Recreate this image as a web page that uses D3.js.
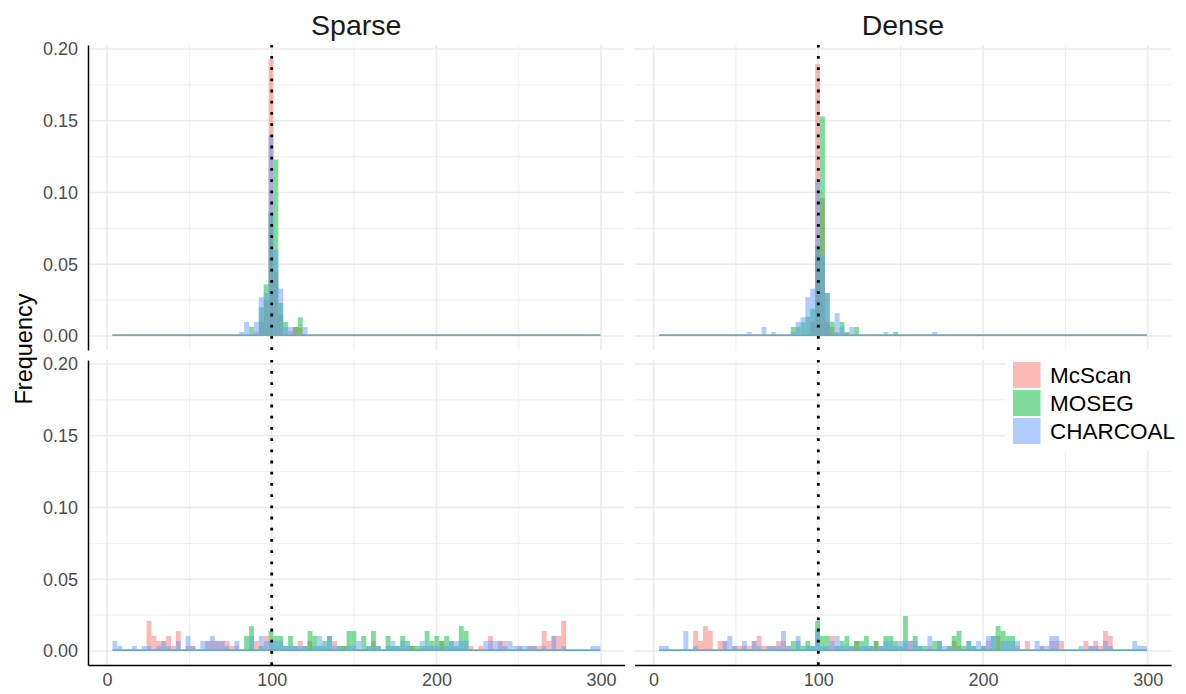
<!DOCTYPE html>
<html>
<head>
<meta charset="utf-8">
<script src="https://d3js.org/d3.v7.min.js"></script>
<style>
  body { margin: 0; background: #fff; }
  text { font-family: "Liberation Sans", Arial, sans-serif; }
</style>
</head>
<body>
<div id="viz"></div>
<script>
var methods = ["McScan", "MOSEG", "CHARCOAL"];
var colors = ["#F8766D", "#00BA38", "#619CFF"];
var columns = ["Sparse", "Dense"];
var xTicks = [0, 100, 200, 300];
var xMinor = [50, 150, 250];
var yTicks = [0, 0.05, 0.10, 0.15, 0.20];
var yMinor = [0.025, 0.075, 0.125, 0.175];
var refLine = 100;

// histogram breaks: 100 bins
var binStart = 3.3, binWidth = 2.962;

// frequencies per bin, top row
var sparseTopMcScan = [
  0,0,0,0,0,0,0,0,0,0,
  0,0,0,0,0,0,0,0,0,0,
  0,0,0,0,0,0,0,0,0,0.003,
  0.01,0.025,0.193,0.045,0.015,0,0.0035,0.0063,0.006,0,
  0,0,0,0,0,0,0,0,0,0,
  0,0,0,0,0,0,0,0,0,0,
  0,0,0,0,0,0,0,0,0,0,
  0,0,0,0,0,0,0,0,0,0,
  0,0,0,0,0,0,0,0,0,0,
  0,0,0,0,0,0,0,0,0,0];
var sparseTopMOSEG = [
  0,0,0,0,0,0,0,0,0,0,
  0,0,0,0,0,0,0,0,0,0,
  0,0,0,0,0,0,0,0,0.0063,0,
  0.02,0.036,0.086,0.123,0.023,0.0098,0,0.0063,0.013,0,
  0,0,0,0,0,0,0,0,0,0,
  0,0,0,0,0,0,0,0,0,0,
  0,0,0,0,0,0,0,0,0,0,
  0,0,0,0,0,0,0,0,0,0,
  0,0,0,0,0,0,0,0,0,0,
  0,0,0,0,0,0,0,0,0,0];
var sparseTopCHARCOAL = [
  0,0,0,0,0,0,0,0,0,0,
  0,0,0,0,0,0,0,0,0,0,
  0,0,0,0,0,0,0.0028,0.0098,0,0.0098,
  0.027,0.030,0.140,0.060,0.033,0.0063,0.0063,0,0,0.0063,
  0,0,0,0,0,0,0,0,0,0,
  0,0,0,0,0,0,0,0,0,0,
  0,0,0,0,0,0,0,0,0,0,
  0,0,0,0,0,0,0,0,0,0,
  0,0,0,0,0,0,0,0,0,0,
  0,0,0,0,0,0,0,0,0,0];
var denseTopMcScan = [
  0,0,0,0,0,0,0,0,0,0,
  0,0,0,0,0,0,0,0,0,0,
  0,0,0,0,0,0,0,0,0,0,
  0,0.01,0.1895,0.096,0.01,0.0063,0,0,0.0026,0,
  0,0,0,0,0,0,0,0,0,0,
  0,0,0,0,0,0,0,0,0,0,
  0,0,0,0,0,0,0,0,0,0,
  0,0,0,0,0,0,0,0,0,0,
  0,0,0,0,0,0,0,0,0,0,
  0,0,0,0,0,0,0,0,0,0];
var denseTopMOSEG = [
  0,0,0,0,0,0,0,0,0,0,
  0,0,0,0,0,0,0,0,0,0,
  0,0,0,0,0,0,0,0.0063,0.0063,0.0095,
  0.0135,0.019,0.063,0.153,0.030,0.0098,0.0026,0.0098,0.0026,0,
  0.0063,0,0,0,0,0,0,0,0.0028,0,
  0,0,0,0,0,0,0,0,0,0,
  0,0,0,0,0,0,0,0,0,0,
  0,0,0,0,0,0,0,0,0,0,
  0,0,0,0,0,0,0,0,0,0,
  0,0,0,0,0,0,0,0,0,0];
var denseTopCHARCOAL = [
  0,0,0,0,0,0,0,0,0,0,
  0,0,0,0,0,0,0,0,0.0028,0,
  0,0.0063,0,0.0028,0,0,0,0.0028,0.0098,0.013,
  0.027,0.033,0.109,0.056,0.030,0,0.016,0.0065,0,0.0063,
  0,0,0,0,0,0,0.0028,0,0,0,
  0,0,0,0,0,0,0.0028,0,0,0,
  0,0,0,0,0,0,0,0,0,0,
  0,0,0,0,0,0,0,0,0,0,
  0,0,0,0,0,0,0,0,0,0,
  0,0,0,0,0,0,0,0,0,0];

// frequencies per bin, bottom row
var sparseBottomMcScan = [
  0,0,0,0,0,0,0,0.021,0.0105,0.007,
  0.007,0.0105,0.0035,0.014,0,0.0035,0.0035,0,0,0.007,
  0.007,0.007,0.007,0.007,0.0035,0.0035,0,0,0,0.007,
  0,0.0105,0,0,0,0,0,0,0.007,0,
  0.007,0,0,0,0,0.007,0,0.0035,0,0,
  0,0,0,0.007,0,0,0,0,0,0,
  0,0.0035,0,0,0,0,0,0.007,0,0,
  0,0,0,0.0035,0,0.0035,0,0.0105,0,0.007,
  0.007,0,0,0.0035,0,0.0035,0.0035,0.0035,0.014,0.007,
  0.0105,0.0105,0.021,0,0,0,0,0,0,0];
var sparseBottomMOSEG = [
  0,0,0,0,0,0,0,0,0,0,
  0,0,0,0,0,0,0,0,0,0,
  0,0,0,0,0,0,0,0.0105,0.0174,0,
  0.0035,0,0.014,0.0105,0.0105,0.0035,0.0105,0.0035,0,0.0035,
  0.014,0.0105,0.0035,0.007,0.0105,0,0.0035,0.0035,0.014,0.014,
  0,0.0105,0.0035,0.014,0.0035,0,0.0105,0.0035,0.0035,0.0105,
  0.007,0.0035,0.0035,0.0035,0.014,0.007,0.0105,0.007,0.0105,0.007,
  0.0035,0.0174,0.014,0,0,0,0,0,0,0,
  0,0,0,0,0,0,0,0,0,0,
  0,0,0,0,0,0,0,0,0,0];
var sparseBottomCHARCOAL = [
  0.007,0.0035,0,0,0.0035,0,0.0035,0.0035,0,0.0035,
  0.007,0.0035,0,0.007,0,0.0105,0.0035,0,0.007,0.007,
  0.0105,0.007,0.007,0.0035,0,0.007,0,0,0.0105,0,
  0.0105,0.007,0.007,0.007,0.007,0.0035,0.0035,0.0035,0.0035,0.0035,
  0,0.0035,0.0105,0.0035,0.0105,0.0035,0.0035,0,0.0035,0.0035,
  0.007,0,0.0035,0,0.0035,0,0.0035,0.007,0.0035,0.007,
  0.0035,0,0,0.007,0.0035,0.0035,0.0035,0,0.0035,0.007,
  0.007,0.007,0.007,0,0,0,0.007,0.007,0.007,0.007,
  0.0035,0.007,0.0035,0.0035,0.0035,0.0035,0.0035,0,0.0035,0,
  0.0105,0,0.0035,0,0,0,0,0,0.0035,0.0035];
var denseBottomMcScan = [
  0,0,0,0,0,0,0,0.014,0.007,0.0174,
  0.014,0,0.007,0.007,0,0.0035,0.0035,0.0035,0.0035,0.007,
  0.0105,0.0035,0.0035,0.0035,0.007,0.007,0.0035,0,0,0,
  0,0,0,0,0,0.0105,0,0,0,0,
  0.007,0,0,0,0.007,0,0,0,0,0,
  0,0.007,0,0,0,0.0035,0,0,0,0,
  0.007,0.0035,0,0,0,0,0,0.007,0,0.0105,
  0,0,0,0.0035,0,0.007,0,0,0.0035,0,
  0.007,0.007,0.007,0,0,0,0,0.007,0.0035,0.007,
  0.0035,0.014,0.0105,0,0,0,0,0,0,0];
var denseBottomMOSEG = [
  0,0,0,0,0,0,0,0,0,0,
  0,0,0,0,0,0,0,0,0,0,
  0,0,0,0,0,0,0,0.007,0.007,0.0035,
  0.007,0.0035,0.021,0.0105,0.0105,0,0.0035,0.007,0.0105,0.0035,
  0.007,0.007,0.0105,0.0035,0.007,0.0035,0.0105,0.0105,0.007,0.0035,
  0.0244,0,0.0105,0.0035,0.0035,0,0.007,0.007,0,0.0035,
  0.0105,0.014,0.0035,0.007,0.0035,0,0.0035,0,0.0105,0.0174,
  0.014,0.0105,0.0105,0,0,0,0,0,0,0,
  0,0,0,0,0,0,0,0,0,0,
  0,0,0,0,0,0,0,0,0,0];
var denseBottomCHARCOAL = [
  0.0035,0.0035,0,0,0,0.014,0,0.0035,0,0,
  0,0,0,0.007,0.0105,0.0035,0,0.007,0,0.007,
  0.0035,0,0.0035,0.0035,0.0035,0.014,0.0035,0,0.0105,0,
  0.0035,0.0035,0.014,0.0035,0.0035,0.007,0.0105,0.0035,0.0035,0.0035,
  0,0.0035,0.0035,0.0035,0,0.0035,0.007,0.007,0.0035,0.007,
  0.007,0.007,0.007,0.0035,0,0.0105,0,0.007,0.0035,0.0035,
  0,0,0,0.007,0.0035,0.007,0.0035,0.0105,0.0105,0,
  0.007,0.007,0.007,0.007,0,0,0,0.007,0.0035,0.0035,
  0.0105,0.0105,0,0,0,0,0.0035,0,0.0035,0.0035,
  0,0.007,0.0035,0,0,0,0,0.007,0.0035,0.0035];

var panels = [
  {col: 0, row: 0, series: [sparseTopMcScan, sparseTopMOSEG, sparseTopCHARCOAL]},
  {col: 1, row: 0, series: [denseTopMcScan, denseTopMOSEG, denseTopCHARCOAL]},
  {col: 0, row: 1, series: [sparseBottomMcScan, sparseBottomMOSEG, sparseBottomCHARCOAL]},
  {col: 1, row: 1, series: [denseBottomMcScan, denseBottomMOSEG, denseBottomCHARCOAL]}
];

var pw = 536.5, ph = 305;
var colX = [88, 634.6], rowY = [45, 360];

var svg = d3.select("#viz")
    .append("svg")
    .attr("width", 1186)
    .attr("height", 694);

var x = d3.scaleLinear().domain([-11.54, 314.2]).range([0, pw]);
var y = d3.scaleLinear().domain([-0.00976, 0.2028]).range([ph, 0]);

panels.forEach(function(p){
  var g = svg.append("g")
      .attr("transform", "translate(" + colX[p.col] + "," + rowY[p.row] + ")");

  // grid
  g.selectAll("line.ymin").data(yMinor).enter().append("line")
      .attr("x1", 0).attr("x2", pw)
      .attr("y1", function(d){ return y(d); }).attr("y2", function(d){ return y(d); })
      .style("stroke", "#ebebeb").style("stroke-width", 0.8);
  g.selectAll("line.xmin").data(xMinor).enter().append("line")
      .attr("y1", 0).attr("y2", ph)
      .attr("x1", function(d){ return x(d); }).attr("x2", function(d){ return x(d); })
      .style("stroke", "#ebebeb").style("stroke-width", 0.8);
  g.selectAll("line.ymaj").data(yTicks).enter().append("line")
      .attr("x1", 0).attr("x2", pw)
      .attr("y1", function(d){ return y(d); }).attr("y2", function(d){ return y(d); })
      .style("stroke", "#ebebeb").style("stroke-width", 1.6);
  g.selectAll("line.xmaj").data(xTicks).enter().append("line")
      .attr("y1", 0).attr("y2", ph)
      .attr("x1", function(d){ return x(d); }).attr("x2", function(d){ return x(d); })
      .style("stroke", "#ebebeb").style("stroke-width", 1.6);

  // bars, one series after the other (empty bins still leave a thin sliver)
  p.series.forEach(function(vals, si){
    g.selectAll("rect.s" + si)
        .data(vals)
        .enter()
        .append("rect")
        .attr("x", function(d, i){ return x(binStart + i * binWidth); })
        .attr("width", function(d, i){ return x(binStart + (i + 1) * binWidth) - x(binStart + i * binWidth); })
        .attr("y", function(d){ return d > 0 ? y(d) : y(0) - 1.6; })
        .attr("height", function(d){ return d > 0 ? y(0) - y(d) : 1.6; })
        .style("fill", colors[si])
        .style("fill-opacity", 0.5);
  });

  // reference line
  g.append("line")
      .attr("x1", x(refLine)).attr("x2", x(refLine))
      .attr("y1", ph).attr("y2", 0)
      .style("stroke", "#000")
      .style("stroke-width", 2.8)
      .style("stroke-dasharray", "2.8,8.4");

  if (p.col === 0) {
    var ay = g.append("g")
        .call(d3.axisLeft(y).tickValues(yTicks).tickSize(0).tickPadding(10).tickFormat(d3.format(".2f")));
    ay.select(".domain").style("stroke", "#000").style("stroke-width", 1.5);
    ay.selectAll("text").style("font-size", "18px").style("fill", "#4d4d4d")
        .style("font-family", "Liberation Sans, Arial, sans-serif");
  }
  if (p.row === 1) {
    var ax = g.append("g")
        .attr("transform", "translate(0," + ph + ")")
        .call(d3.axisBottom(x).tickValues(xTicks).tickSize(0).tickPadding(8));
    ax.select(".domain").style("stroke", "#000").style("stroke-width", 1.5);
    ax.selectAll("text").style("font-size", "18px").style("fill", "#4d4d4d")
        .style("font-family", "Liberation Sans, Arial, sans-serif");
  }
  if (p.row === 0) {
    g.append("text")
        .attr("x", pw / 2).attr("y", -10)
        .attr("text-anchor", "middle")
        .style("font-size", "28.5px")
        .style("fill", "#1a1a1a")
        .text(columns[p.col]);
  }
});

// y title
svg.append("text")
    .attr("transform", "translate(31.5,349) rotate(-90)")
    .attr("text-anchor", "middle")
    .style("font-size", "23.5px")
    .style("fill", "#000")
    .text("Frequency");

// legend
var lg = svg.append("g").attr("transform", "translate(1005,354)");
lg.append("rect").attr("width", 181).attr("height", 97).style("fill", "#fff");
methods.forEach(function(m, i){
  lg.append("rect")
      .attr("x", 8).attr("y", 8 + i * 28)
      .attr("width", 27.5).attr("height", 26)
      .style("fill", colors[i]).style("fill-opacity", 0.5);
  lg.append("text")
      .attr("x", 45).attr("y", 21 + i * 28)
      .attr("dy", "0.36em")
      .style("font-size", "22.5px")
      .style("fill", "#000")
      .text(m);
});
</script>
</body>
</html>
